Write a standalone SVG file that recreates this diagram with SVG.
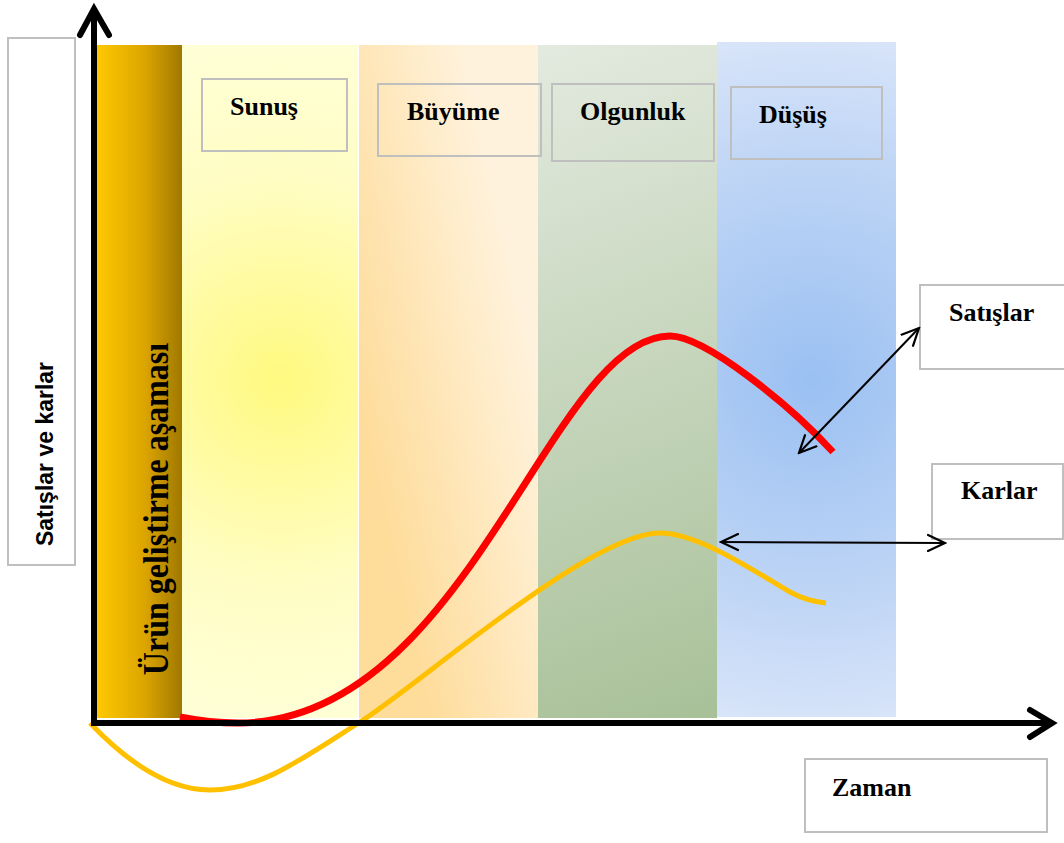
<svg xmlns="http://www.w3.org/2000/svg" width="1064" height="843" viewBox="0 0 1064 843">
  <style>
    .box { fill: none; stroke: #BFBFBF; stroke-width: 2; }
    .lbl { font-family: "Liberation Serif", "Times New Roman", serif; font-weight: bold; font-size: 26px; fill: #000; }
    .axis { fill: none; stroke: #000; stroke-width: 6; }
    .ptr { fill: none; stroke: #000; stroke-width: 2; }
    .curve { fill: none; stroke-linecap: butt; stroke-linejoin: round; }
  </style>
  <defs>
    <linearGradient id="gDev" x1="0" y1="0" x2="1" y2="0">
      <stop offset="0" stop-color="#FFC800"/>
      <stop offset="0.55" stop-color="#DDA600"/>
      <stop offset="1" stop-color="#A07800"/>
    </linearGradient>
    <radialGradient id="gIntro" gradientUnits="userSpaceOnUse" cx="280" cy="380" r="340">
      <stop offset="0" stop-color="#FFF97F"/>
      <stop offset="0.6" stop-color="#FFFDC4"/>
      <stop offset="1" stop-color="#FFFFD6"/>
    </radialGradient>
    <linearGradient id="gGrowth" gradientUnits="userSpaceOnUse" x1="359" y1="420" x2="538" y2="380">
      <stop offset="0" stop-color="#FEDC9A"/>
      <stop offset="1" stop-color="#FFF2DC"/>
    </linearGradient>
    <linearGradient id="gMature" gradientUnits="userSpaceOnUse" x1="538" y1="45" x2="780" y2="718">
      <stop offset="0" stop-color="#E3EADF"/>
      <stop offset="1" stop-color="#A6BF96"/>
    </linearGradient>
    <radialGradient id="gDecline" gradientUnits="userSpaceOnUse" cx="812" cy="380" r="380">
      <stop offset="0" stop-color="#9AC0F2"/>
      <stop offset="0.55" stop-color="#BDD4F5"/>
      <stop offset="1" stop-color="#DEE8FA"/>
    </radialGradient>
    <marker id="head" markerUnits="userSpaceOnUse" viewBox="0 0 20 20" markerWidth="20" markerHeight="20" refX="18" refY="10" orient="auto-start-reverse">
      <path d="M1,2 L18,10 L1,18" fill="none" stroke="#000" stroke-width="2.2" stroke-linecap="round"/>
    </marker>
  </defs>

  <rect width="1064" height="843" fill="#FFFFFF"/>

  <!-- stage bands -->
  <g id="bands">
    <rect id="band-dev" x="97" y="45" width="85" height="673" fill="url(#gDev)"/>
    <rect id="band-intro" x="182" y="45" width="176" height="673" fill="url(#gIntro)"/>
    <rect id="band-growth" x="359" y="45" width="179" height="673" fill="url(#gGrowth)"/>
    <rect id="band-mature" x="538" y="45" width="179" height="673" fill="url(#gMature)"/>
    <rect id="band-decline" x="717" y="42" width="179" height="675" fill="url(#gDecline)"/>
  </g>

  <!-- vertical development stage label -->
  <g id="node-dev">
    <text class="lbl" style="font-size:32px" text-anchor="middle" transform="translate(168,509) rotate(-90) scale(1,1.12)">Ürün geliştirme aşaması</text>
  </g>

  <!-- stage title boxes -->
  <g id="node-sunus">
    <rect class="box" x="202" y="79" width="145" height="72"/>
    <text class="lbl" x="230" y="115">Sunuş</text>
  </g>
  <g id="node-buyume">
    <rect class="box" x="378" y="84" width="163" height="72"/>
    <text class="lbl" x="407" y="120">Büyüme</text>
  </g>
  <g id="node-olgunluk">
    <rect class="box" x="552" y="84" width="162" height="77"/>
    <text class="lbl" x="580" y="120">Olgunluk</text>
  </g>
  <g id="node-dusus">
    <rect class="box" x="731" y="87" width="151" height="72"/>
    <text class="lbl" x="759" y="123">Düşüş</text>
  </g>

  <!-- axis title boxes -->
  <g id="node-yaxis">
    <rect class="box" x="8" y="38" width="67" height="527"/>
    <text x="0" y="0" text-anchor="middle" transform="translate(53,454) rotate(-90)" style="font-family:'Liberation Sans', Arial, sans-serif; font-weight:bold; font-size:23px; fill:#000">Satışlar ve karlar</text>
  </g>
  <g id="node-zaman">
    <rect class="box" x="805" y="759" width="242" height="73"/>
    <text class="lbl" x="832" y="796">Zaman</text>
  </g>
  <g id="node-satislar">
    <rect class="box" x="920" y="285" width="150" height="84"/>
    <text class="lbl" x="949" y="321">Satışlar</text>
  </g>
  <g id="node-karlar">
    <rect class="box" x="932" y="464" width="131" height="75"/>
    <text class="lbl" x="961" y="499">Karlar</text>
  </g>

  <!-- sales and profit curves -->
  <g id="curves">
    <path id="profits" class="curve" stroke="#FFC000" stroke-width="5"
      d="M90,723 C130,765 170,790 210,790 C260,790 300,760 360,722 C420,684 590,533 660,533 C700,533 760,575 790,592 C805,600 815,602 826,603"/>
    <path id="sales" class="curve" stroke="#FF0000" stroke-width="7"
      d="M180,717 C200,721 220,723 238,723 C468,723 550,336 670,336 C705,336 790,405 833,452"/>
  </g>

  <!-- axes -->
  <g id="axes">
    <path class="axis" d="M94,12 L94,723 L1050,723"/>
    <path class="axis" d="M80,35 L94,9 L109,35" stroke-linecap="round"/>
    <path class="axis" d="M1030,710 L1052,723 L1030,737" stroke-linecap="round"/>
  </g>

  <!-- label pointers -->
  <g id="connectors">
    <line class="ptr" x1="799" y1="453" x2="919" y2="328" marker-start="url(#head)" marker-end="url(#head)"/>
    <line class="ptr" x1="721" y1="542" x2="945" y2="543" marker-start="url(#head)" marker-end="url(#head)"/>
  </g>
</svg>
